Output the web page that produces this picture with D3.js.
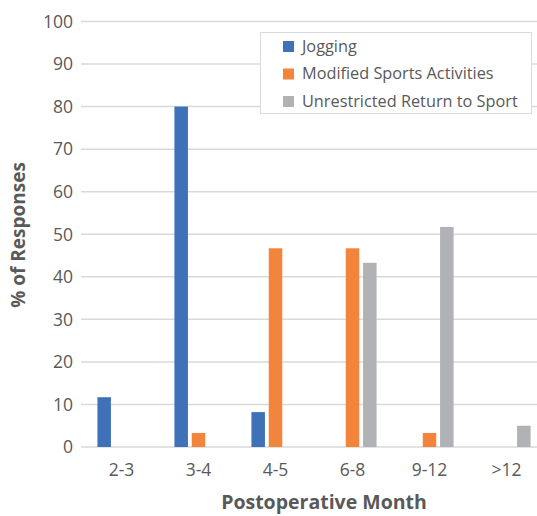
<!DOCTYPE html>
<html>
<head>
<meta charset="utf-8">
<script src="https://cdn.jsdelivr.net/npm/d3@7"></script>
<style>
  body { margin: 0; background: #fff; }
  text { font-family: "Open Sans", Lato, sans-serif; }
</style>
</head>
<body>
<div id="chart"></div>
<script>
var categories = ["2-3", "3-4", "4-5", "6-8", "9-12", ">12"];
var seriesNames = ["Jogging", "Modified Sports Activities", "Unrestricted Return to Sport"];
var jogging = [11.7, 80, 8.2, 0, 0, 0];
var modified = [0, 3.3, 46.7, 46.7, 3.3, 0];
var unrestricted = [0, 0, 0, 43.3, 51.7, 5.0];
var yTicks = [0, 10, 20, 30, 40, 50, 60, 70, 80, 90, 100];
var colors = ["#3E71B8", "#F3843B", "#B1B2B5"];

var width = 537, height = 516;
// plot area runs a little past the right edge of the picture
var plotLeft = 83, plotRight = 545, plotTop = 21.5, plotBottom = 447;

var svg = d3.select("#chart").append("svg")
    .attr("width", width)
    .attr("height", height);

var allSeries = [jogging, modified, unrestricted];

var x0 = d3.scaleBand()
    .domain(categories)
    .range([plotLeft, plotRight])
    .paddingInner(0.325)
    .paddingOuter(0.1625);

var x1 = d3.scaleBand()
    .domain(seriesNames)
    .range([0, x0.bandwidth()])
    .paddingInner(0.22)
    .paddingOuter(0.11);

var y = d3.scaleLinear()
    .domain([0, 100])
    .range([plotBottom, plotTop]);

// gridlines
svg.append("g")
    .selectAll("line")
    .data(yTicks)
    .enter().append("line")
    .attr("x1", plotLeft - 2)
    .attr("x2", width)
    .attr("y1", d => y(d))
    .attr("y2", d => y(d))
    .attr("stroke", "#D9D9D9")
    .attr("stroke-width", 1.5);

// y tick labels
svg.append("g")
    .selectAll("text")
    .data(yTicks)
    .enter().append("text")
    .attr("x", 73)
    .attr("y", d => y(d))
    .attr("dy", "0.36em")
    .attr("text-anchor", "end")
    .attr("font-size", 17.5)
    .attr("fill", "#595959")
    .text(d => d);

// bars
var groups = svg.append("g")
    .selectAll("g")
    .data(categories)
    .enter().append("g")
    .attr("transform", d => "translate(" + x0(d) + ",0)");

groups.selectAll("rect")
    .data((c, i) => allSeries.map((s, j) => ({ name: seriesNames[j], value: s[i], color: colors[j] })))
    .enter().append("rect")
    .filter(d => d.value > 0)
    .attr("x", d => x1(d.name))
    .attr("width", x1.bandwidth())
    .attr("y", d => y(d.value))
    .attr("height", d => y(0) - y(d.value))
    .attr("fill", d => d.color);

// x tick labels
svg.append("g")
    .selectAll("text")
    .data(categories)
    .enter().append("text")
    .attr("x", d => x0(d) + x0.bandwidth() / 2)
    .attr("y", 476)
    .attr("text-anchor", "middle")
    .attr("font-size", 17.5)
    .attr("fill", "#595959")
    .text(d => d);

// axis titles
svg.append("text")
    .attr("x", 324)
    .attr("y", 509)
    .attr("text-anchor", "middle")
    .attr("font-size", 19.5)
    .attr("font-weight", "bold")
    .attr("fill", "#595959")
    .text("Postoperative Month");

svg.append("text")
    .attr("transform", "translate(25,235) rotate(-90)")
    .attr("text-anchor", "middle")
    .attr("font-size", 19)
    .attr("font-weight", "bold")
    .attr("fill", "#595959")
    .text("% of Responses");

// legend
var legend = svg.append("g");
legend.append("rect")
    .attr("x", 260.5)
    .attr("y", 32.5)
    .attr("width", 271)
    .attr("height", 81)
    .attr("fill", "#fff")
    .attr("stroke", "#D9D9D9");

var items = legend.selectAll("g.item")
    .data(seriesNames)
    .enter().append("g")
    .attr("class", "item")
    .attr("transform", (d, i) => "translate(283," + (46 + i * 27.5) + ")");

items.append("rect")
    .attr("x", 0)
    .attr("y", -5)
    .attr("width", 11)
    .attr("height", 11)
    .attr("fill", (d, i) => colors[i]);

items.append("text")
    .attr("x", 19)
    .attr("y", 0)
    .attr("dy", "0.36em")
    .attr("font-size", 16.3)
    .attr("fill", "#595959")
    .text(d => d);
</script>
</body>
</html>
